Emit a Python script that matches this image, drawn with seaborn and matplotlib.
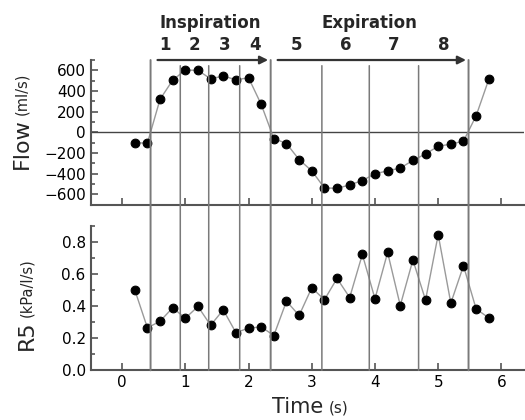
import matplotlib
matplotlib.use("Agg")
import matplotlib.pyplot as plt
from matplotlib.patches import ConnectionPatch
from matplotlib.ticker import MultipleLocator
import matplotlib.transforms as mtransforms
import seaborn as sns

# ==== data ====
time_s = [0.2, 0.4, 0.6, 0.8, 1.0, 1.2, 1.4, 1.6, 1.8, 2.0, 2.2, 2.4, 2.6, 2.8, 3.0,
          3.2, 3.4, 3.6, 3.8, 4.0, 4.2, 4.4, 4.6, 4.8, 5.0, 5.2, 5.4, 5.6, 5.8]
flow = [-100, -105, 320, 505, 603, 600, 518, 545, 509, 528, 271, -60, -108, -264, -372,
        -538, -541, -509, -466, -401, -372, -346, -271, -209, -134, -114, -85, 160, 512]
r5 = [0.502, 0.265, 0.306, 0.390, 0.325, 0.398, 0.281, 0.377, 0.235, 0.263, 0.271, 0.217,
      0.431, 0.342, 0.515, 0.440, 0.573, 0.454, 0.723, 0.446, 0.735, 0.404, 0.688, 0.438,
      0.846, 0.419, 0.652, 0.383, 0.327]

# phase boundaries (s); the 1st, 5th and last mark start/end of inspiration/expiration
bounds = [0.45, 0.92, 1.37, 1.86, 2.35, 3.16, 3.91, 4.69, 5.48]
main_bounds = [0.45, 2.35, 5.48]
segment_labels = ["1", "2", "3", "4", "5", "6", "7", "8"]
phase_names = ["Inspiration", "Expiration"]

sns.set_style("ticks")
plt.rcParams["font.family"] = ["DejaVu Sans"]
plt.rcParams["axes.unicode_minus"] = True

fig = plt.figure(figsize=(5.25, 4.2), dpi=100)
ax1 = fig.add_axes([0.1724, 0.5126, 0.8248, 0.3445])
ax2 = fig.add_axes([0.1724, 0.1183, 0.8248, 0.3436])

spine_c = "#555555"
line_kw = dict(color="#9a9a9a", linewidth=1.0, marker="o", markersize=6.3,
               markerfacecolor="black", markeredgecolor="black", zorder=3)

sns.lineplot(x=time_s, y=flow, ax=ax1, **line_kw)
sns.lineplot(x=time_s, y=r5, ax=ax2, **line_kw)

ax1.axhline(0, color="#444444", linewidth=1.0, zorder=1)

for ax in (ax1, ax2):
    ax.set_xlim(-0.5, 6.35)
    ax.xaxis.set_major_locator(MultipleLocator(1))
    ax.tick_params(direction="in", which="both", colors=spine_c, labelcolor="black",
                   labelsize=11, width=1.2)
    ax.tick_params(which="major", length=5)
    ax.tick_params(which="minor", length=3)
    for s in ("top", "right"):
        ax.spines[s].set_visible(False)
    for s in ("left", "bottom"):
        ax.spines[s].set_color(spine_c)
        ax.spines[s].set_linewidth(1.5)
    ax.set_xlabel("")
    ax.set_ylabel("")

ax1.set_ylim(-700, 700)
ax1.yaxis.set_major_locator(MultipleLocator(200))
ax1.yaxis.set_minor_locator(MultipleLocator(100))
ax1.tick_params(axis="x", labelbottom=False)

ax2.set_ylim(0, 0.9)
ax2.yaxis.set_minor_locator(MultipleLocator(0.1))
ax2.set_yticks([0.0, 0.2, 0.4, 0.6, 0.8])
ax2.set_yticklabels(["0.0", "0.2", "0.4", "0.6", "0.8"])

# vertical phase lines running through both panels
for b in bounds:
    top = 700 if b in main_bounds else 645
    lw = 1.4 if b in main_bounds else 1.1
    con = ConnectionPatch(xyA=(b, top), coordsA=ax1.transData,
                          xyB=(b, 0), coordsB=ax2.transData,
                          color="#7a7a7a", linewidth=lw, zorder=1)
    fig.add_artist(con)

# arrows for inspiration / expiration
for start, end in zip(main_bounds[:-1], main_bounds[1:]):
    ax1.annotate("", xy=(end - 0.04, 700), xytext=(start + 0.11, 700),
                 arrowprops=dict(arrowstyle="-|>", color="#333333", lw=1.6,
                                 mutation_scale=12, shrinkA=0, shrinkB=0),
                 annotation_clip=False)

trans = mtransforms.blended_transform_factory(ax1.transData, ax1.transAxes)
for name, start, end in zip(phase_names, main_bounds[:-1], main_bounds[1:]):
    ax1.text((start + end) / 2, 1.256, name, transform=trans, ha="center", va="center",
             fontsize=12, fontweight="semibold", clip_on=False)
for lab, a, b in zip(segment_labels, bounds[:-1], bounds[1:]):
    ax1.text((a + b) / 2, 1.104, lab, transform=trans, ha="center", va="center",
             fontsize=12, fontweight="bold", clip_on=False)

# axis titles with a smaller unit part
t_flow = fig.text(22 / 525, 0.5976, "Flow", rotation=90, ha="center", va="bottom",
                  fontsize=16)
t_r5 = fig.text(27 / 525, 0.1667, "R5", rotation=90, ha="center", va="bottom",
                fontsize=16)
t_time = fig.text(272 / 525, 0.0167, "Time", ha="left", va="baseline", fontsize=15)

fig.canvas.draw()
r = fig.canvas.get_renderer()
H = fig.bbox.height
W = fig.bbox.width
bb = t_flow.get_window_extent(r)
fig.text(22 / 525, (bb.y1 + 3) / H, "(ml/s)", rotation=90, ha="center", va="bottom",
         fontsize=10.5)
bb = t_r5.get_window_extent(r)
fig.text(27 / 525, (bb.y1 + 3) / H, "(kPa/l/s)", rotation=90, ha="center", va="bottom",
         fontsize=10.5)
bb = t_time.get_window_extent(r)
fig.text((bb.x1 + 5) / W, 0.0167, "(s)", ha="left", va="baseline", fontsize=11)

fig.savefig("out.png", dpi=100)
